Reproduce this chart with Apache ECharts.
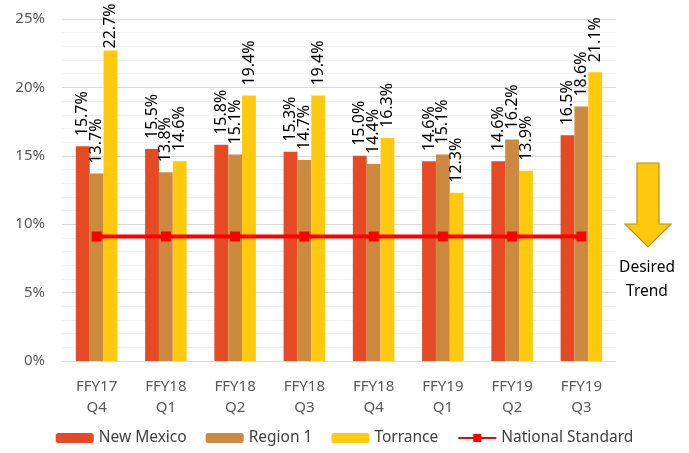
<!DOCTYPE html>
<html>
<head>
<meta charset="utf-8">
<script src="https://cdn.jsdelivr.net/npm/echarts@6/dist/echarts.min.js"></script>
<style>html,body{margin:0;padding:0;background:#fff}#c{width:689px;height:453px}</style>
</head>
<body>
<div id="c"></div>
<script>
const categories = ['FFY17\nQ4','FFY18\nQ1','FFY18\nQ2','FFY18\nQ3','FFY18\nQ4','FFY19\nQ1','FFY19\nQ2','FFY19\nQ3'];
const newMexico = [15.7, 15.5, 15.8, 15.3, 15.0, 14.6, 14.6, 16.5];
const region1 = [13.7, 13.8, 15.1, 14.7, 14.4, 15.1, 16.2, 18.6];
const torrance = [22.7, 14.6, 19.4, 19.4, 16.3, 12.3, 13.9, 21.1];
const nationalStandard = [9.1, 9.1, 9.1, 9.1, 9.1, 9.1, 9.1, 9.1];
const yTicks = [0, 5, 10, 15, 20, 25];

const FONT = '"Noto Sans", sans-serif';
const chart = echarts.init(document.getElementById('c'));
const barLabel = {
  show: true, position: 'top', rotate: 90, align: 'left', verticalAlign: 'middle',
  distance: 10, color: '#000', fontSize: 16, fontFamily: FONT,
  formatter: p => p.value.toFixed(1) + '%'
};
// labels near the top edge are pushed down to stay inside the chart
function withLabels(arr) {
  return arr.map(v => v > 22 ? { value: v, label: { distance: 2 } } : v);
}
function bar(name, data, color) {
  return { name, type: 'bar', data: withLabels(data), barGap: '0%', barCategoryGap: '40%',
    itemStyle: { color }, label: barLabel };
}
chart.setOption({
  animation: false,
  grid: { left: 62, right: 73, top: 19, bottom: 92 },
  xAxis: {
    type: 'category', data: categories,
    axisTick: { show: false },
    axisLine: { lineStyle: { color: '#D9D9D9', width: 1 } },
    axisLabel: { color: '#595959', fontSize: 15, fontFamily: FONT, lineHeight: 21, margin: 15 }
  },
  yAxis: {
    type: 'value', min: yTicks[0], max: yTicks[yTicks.length - 1], interval: 5,
    axisLine: { show: false }, axisTick: { show: false },
    axisLabel: { color: '#595959', fontSize: 15, fontFamily: FONT, margin: 17, formatter: v => v + '%' },
    splitLine: { lineStyle: { color: '#D9D9D9', width: 1 } },
    minorTick: { show: false, splitNumber: 5 },
    minorSplitLine: { show: true, lineStyle: { color: '#F0F0F0', width: 1 } }
  },
  legend: {
    bottom: 2, left: 'center', itemWidth: 38, itemHeight: 10, itemGap: 19,
    textStyle: { color: '#404040', fontSize: 15.5, fontFamily: FONT },
    data: ['New Mexico', 'Region 1', 'Torrance', 'National Standard']
  },
  series: [
    bar('New Mexico', newMexico, '#E64A24'),
    bar('Region 1', region1, '#CC8A40'),
    bar('Torrance', torrance, '#FFC90E'),
    { name: 'National Standard', type: 'line', data: nationalStandard,
      lineStyle: { color: '#FF0000', width: 4 }, itemStyle: { color: '#FF0000' },
      symbol: 'rect', symbolSize: 10, showSymbol: true, z: 5 }
  ],
  graphic: [
    { type: 'polygon', shape: { points: [[637,163],[659,163],[659,224],[671,224],[648,247],[625,224],[637,224]] },
      style: { fill: '#FFC90E', stroke: '#BF9000', lineWidth: 1.2 } },
    { type: 'text', x: 647, y: 268, style: { text: 'Desired', fill: '#000', font: '15.5px ' + FONT, align: 'center', verticalAlign: 'middle' } },
    { type: 'text', x: 647, y: 292, style: { text: 'Trend', fill: '#000', font: '15.5px ' + FONT, align: 'center', verticalAlign: 'middle' } }
  ]
});
</script>
</body>
</html>
